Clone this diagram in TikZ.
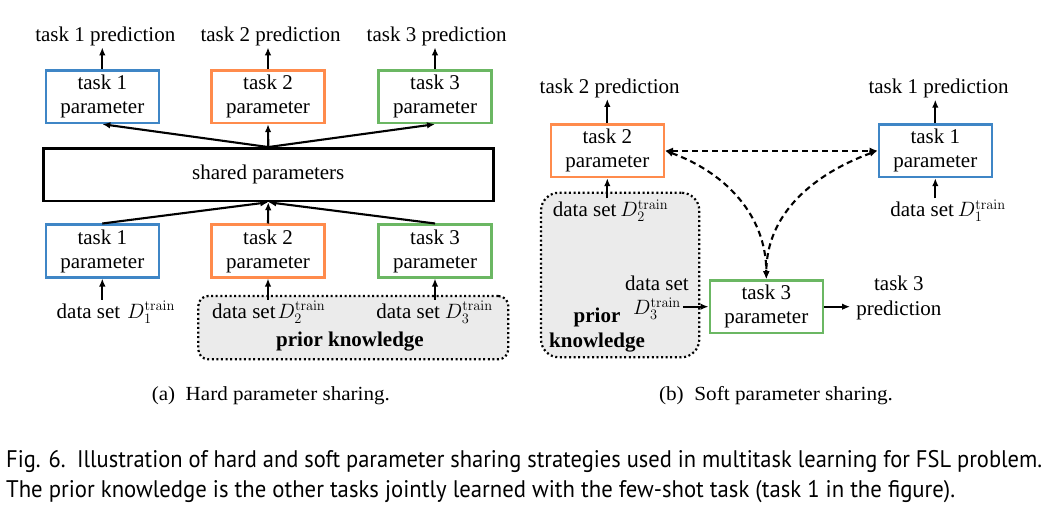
\documentclass[tikz,border=0pt]{standalone}
\usepackage[no-math]{fontspec}
\setmainfont{Liberation Serif}
\newfontfamily\capfont{PT Sans}
\usepackage{graphicx}
\usetikzlibrary{arrows.meta}
\definecolor{tblue}{HTML}{3F86C6}
\definecolor{torange}{HTML}{FF8B4C}
\definecolor{tgreen}{HTML}{6BB763}
\definecolor{pkgray}{HTML}{EBEBEB}
\newcommand{\dfont}{\fontsize{21}{24}\selectfont}
\newcommand{\sfont}{\fontsize{20}{24}\selectfont}
\newcommand{\cfont}{\capfont\fontsize{24}{30}\selectfont}
\tikzset{
  pbox/.style={draw, line width=2.5pt, minimum width=113pt, minimum height=52.5pt, inner sep=0pt, align=center, font=\dfont},
  lbl/.style={inner sep=1pt, font=\dfont},
  arr/.style={-{Latex[length=8pt,width=6.5pt]}, line width=2.1pt},
  darr/.style={{Latex[length=8pt,width=6.5pt]}-{Latex[length=8pt,width=6.5pt]}, line width=2.1pt, dash pattern=on 6pt off 4pt},
  prior/.style={draw, fill=pkgray, line width=2.2pt, dash pattern=on 2pt off 2.6pt, inner sep=0pt},
}
\begin{document}
\begin{tikzpicture}[x=1pt,y=1pt]
\useasboundingbox (0,0) rectangle (1062,528);
\fill[white] (0,0) rectangle (1062,528);

% ---------- (a) hard parameter sharing ----------
\node[prior, rounded corners=10pt, minimum width=310pt, minimum height=63.3pt] (pk1) at (353.3,200.35) {};
\node[lbl, anchor=base, font=\dfont\bfseries] (pk1l) at (350,181.3) {prior knowledge};

\node[pbox, draw=tblue] (a1) at (102.3,431.3) {task 1\\parameter};
\node[pbox, draw=torange] (a2) at (268,431.3) {task 2\\parameter};
\node[pbox, draw=tgreen] (a3) at (435,431.3) {task 3\\parameter};

\node[lbl, anchor=base] (ap1) at (105.3,486.3) {task 1 prediction};
\node[lbl, anchor=base] (ap2) at (270.5,486.3) {task 2 prediction};
\node[lbl, anchor=base] (ap3) at (436.7,486.3) {task 3 prediction};

\node[draw, line width=2.5pt, minimum width=450pt, minimum height=52.7pt, font=\dfont] (sh) at (268.3,353.35) {\raisebox{-4pt}{shared parameters}};

\node[pbox, draw=tblue] (b1) at (102.3,277) {task 1\\parameter};
\node[pbox, draw=torange] (b2) at (268,277) {task 2\\parameter};
\node[pbox, draw=tgreen] (b3) at (435,277) {task 3\\parameter};

\node[lbl, anchor=base] (d1) at (115.8,210) {data set\hspace{7pt}$D_1^{\mathrm{train}}$};
\node[lbl, anchor=base] (d2) at (268.7,210) {data set\hspace{2pt}$D_2^{\mathrm{train}}$};
\node[lbl, anchor=base] (d3) at (434.5,210) {data set\hspace{5pt}$D_3^{\mathrm{train}}$};

\draw[arr] (a1.north) -- (a1.north |- ap1.south);
\draw[arr] (a2.north) -- (a2.north |- ap2.south);
\draw[arr] (a3.north) -- (a3.north |- ap3.south);
\draw[arr] (sh.north) -- (a1.south);
\draw[arr] (sh.north) -- (a2.south);
\draw[arr] (sh.north) -- (a3.south);
\draw[arr] (b1.north) -- (sh.south);
\draw[arr] (b2.north) -- (sh.south);
\draw[arr] (b3.north) -- (sh.south);
\draw[arr] (b1.south |- d1.north) -- (b1.south);
\draw[arr] (b2.south |- d2.north) -- (b2.south);
\draw[arr] (b3.south |- d3.north) -- (b3.south);

% ---------- (b) soft parameter sharing ----------
\node[prior, rounded corners=18pt, minimum width=158.3pt, minimum height=164.6pt] (pk2) at (620.15,253) {};
\node[lbl, align=center, font=\fontsize{21}{25}\selectfont\bfseries] (pk2l) at (597,198) {prior\\knowledge};

\node[pbox, draw=torange] (t2) at (607.3,377.3) {task 2\\parameter};
\node[pbox, draw=tblue] (t1) at (935.3,377.3) {task 1\\parameter};
\node[pbox, draw=tgreen] (t3) at (766.3,221.3) {task 3\\parameter};

\node[lbl, anchor=base] (p2) at (609.7,434.7) {task 2 prediction};
\node[lbl, anchor=base] (p1) at (938.5,434) {task 1 prediction};
\node[lbl, anchor=base] (ds2) at (610.5,311.3) {data set\hspace{4pt}$D_2^{\mathrm{train}}$};
\node[lbl, anchor=base] (ds1) at (948,311.3) {data set\hspace{4pt}$D_1^{\mathrm{train}}$};
\node[lbl, align=center] (ds3) at (657,230) {data set\\$D_3^{\mathrm{train}}$};
\node[lbl, align=center, font=\fontsize{21}{25}\selectfont] (tp3) at (898.9,230) {task 3\\prediction};

\draw[arr] (t2.north) -- (t2.north |- p2.south);
\draw[arr] (t1.north) -- (t1.north |- p1.south);
\draw[arr] (t2.south |- ds2.north) -- (t2.south);
\draw[arr] (t1.south |- ds1.north) -- (t1.south);
\draw[arr] ([xshift=-7pt]ds3.east |- t3.west) -- (t3.west);
\draw[arr] (t3.east) -- ([xshift=-5pt]tp3.west |- t3.east);

\draw[darr] (t2.east) -- (t1.west);
\draw[darr] (t2.east) to[out=-20,in=90] (t3.north);
\draw[darr] (t1.west) to[out=200,in=90] (t3.north);

% ---------- captions ----------
\node[inner sep=0pt, anchor=base, font=\sfont] (capa) at (270.8,128) {\resizebox{238pt}{\height}{(a)\enspace Hard parameter sharing.}};
\node[inner sep=0pt, anchor=base, font=\sfont] (capb) at (776,128) {\resizebox{234pt}{\height}{(b)\enspace Soft parameter sharing.}};
\node[inner sep=0pt, anchor=base west, font=\cfont] (fig1) at (6,60.5) {\resizebox{1036pt}{\height}{Fig. 6.\enspace Illustration of hard and soft parameter sharing strategies used in multitask learning for FSL problem.}};
\node[inner sep=0pt, anchor=base west, font=\cfont] (fig2) at (6,31) {\resizebox{949pt}{\height}{The prior knowledge is the other tasks jointly learned with the few-shot task (task 1 in the figure).}};
\end{tikzpicture}
\end{document}
